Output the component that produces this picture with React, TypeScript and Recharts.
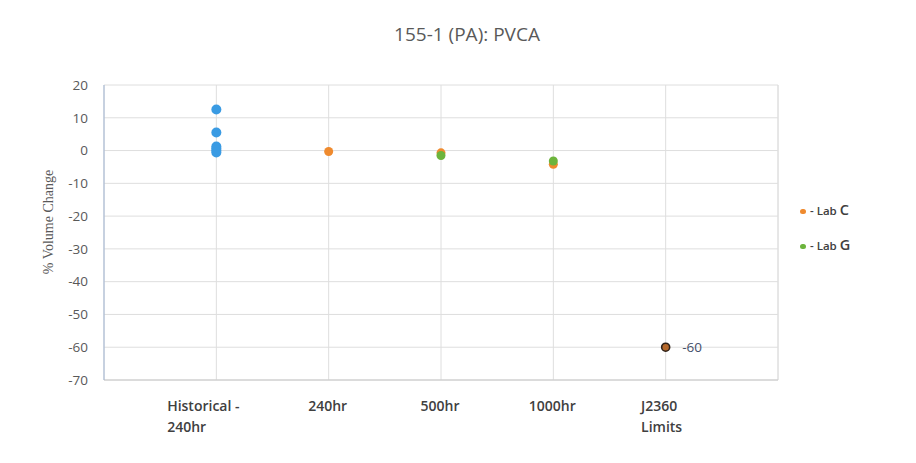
import React from 'react';
import {
  ScatterChart,
  Scatter,
  XAxis,
  YAxis,
  CartesianGrid,
  ReferenceLine,
  LabelList,
} from 'recharts';

const categories = ['Historical - 240hr', '240hr', '500hr', '1000hr', 'J2360 Limits'];
const categoryLines = [['Historical -', '240hr'], ['240hr'], ['500hr'], ['1000hr'], ['J2360', 'Limits']];
const yTicks = [20, 10, 0, -10, -20, -30, -40, -50, -60, -70];

const historicalValues = [12.5, 5.5, 1.2, 0.6, 0, -0.6];
const labCCats = [2, 3, 4];
const labCValues = [-0.3, -0.7, -4.2];
const labGCats = [3, 4];
const labGValues = [-1.5, -3.2];
const limitCats = [5];
const limitValues = [-60];

const historicalData = historicalValues.map((v) => ({ x: 1, y: v }));
const labCData = labCValues.map((v, i) => ({ x: labCCats[i], y: v }));
const labGData = labGValues.map((v, i) => ({ x: labGCats[i], y: v }));
const limitData = limitValues.map((v, i) => ({ x: limitCats[i], y: v, label: String(v) }));

const FONT = '"Open Sans", "Liberation Sans", sans-serif';

const XTick = (props: any) => {
  const { x, y, payload } = props;
  const idx = Math.round(payload.value) - 1;
  const lines = categoryLines[idx] || [];
  const longest = Math.max(...lines.map((l) => l.length));
  const w = longest * 8.2;
  return (
    <g>
      {lines.map((l, i) => (
        <text
          key={i}
          x={x - w / 2}
          y={y + 23 + i * 21}
          textAnchor="start"
          fontFamily={FONT}
          fontSize={14}
          fontWeight={600}
          fill="#404040"
        >
          {l}
        </text>
      ))}
    </g>
  );
};

const YLabel = () => (
  <text
    x={48}
    y={222}
    transform="rotate(-90, 48, 222)"
    textAnchor="middle"
    dominantBaseline="central"
    fontFamily='"Liberation Serif", serif'
    fontSize={14}
    fill="#595959"
  >
    % Volume Change
  </text>
);

const CircleShape = (r: number) => (p: any) => (
  <circle cx={p.cx} cy={p.cy} r={r} fill={p.fill} />
);

export default function App() {
  return (
    <div style={{ position: 'absolute', left: 0, top: 0, width: 916, height: 463, background: '#fff', fontFamily: FONT }}>
      <div
        style={{
          position: 'absolute',
          left: 0,
          width: 934,
          top: 21,
          textAlign: 'center',
          fontSize: 19,
          color: '#595959',
        }}
      >
        155-1 (PA): PVCA
      </div>
      <ScatterChart
        width={916}
        height={463}
        margin={{ top: 85, right: 138, bottom: 0, left: 0 }}
      >
        <CartesianGrid stroke="#dedede" />
        <XAxis
          type="number"
          dataKey="x"
          domain={[0, 6]}
          ticks={[1, 2, 3, 4, 5]}
          height={83}
          tick={<XTick />}
          tickLine={false}
          axisLine={{ stroke: '#c8c8c8' }}
          interval={0}
          allowDataOverflow
        />
        <YAxis
          type="number"
          dataKey="y"
          domain={[-70, 20]}
          ticks={yTicks}
          width={104}
          tickLine={false}
          tickSize={0}
          tickMargin={16}
          axisLine={{ stroke: '#9fb3d1' }}
          tick={{ fontFamily: FONT, fontSize: 13.5, fill: '#595959' }}
          label={<YLabel />}
        />
        <ReferenceLine x={6} stroke="#dedede" />
        <Scatter data={historicalData} fill="#3a9be3" isAnimationActive={false} shape={CircleShape(5)} />
        <Scatter data={labCData} fill="#ef8a2e" isAnimationActive={false} shape={CircleShape(4.5)} />
        <Scatter data={labGData} fill="#6cb43c" isAnimationActive={false} shape={CircleShape(4.5)} />
        <Scatter
          data={limitData}
          isAnimationActive={false}
          shape={(p: any) => (
            <circle cx={p.cx} cy={p.cy} r={4} fill="#b5682a" stroke="#2e2118" strokeWidth={1.6} />
          )}
        >
          <LabelList
            dataKey="label"
            position="right"
            offset={12}
            style={{ fontFamily: FONT, fontSize: 13.5, fill: '#44506a' }}
          />
        </Scatter>
      </ScatterChart>
      <div style={{ position: 'absolute', left: 800, top: 200, fontSize: 12, color: '#404040', lineHeight: '20px' }}>
        <span style={{ display: 'inline-block', width: 6, height: 5, borderRadius: 3, background: '#ef8a2e', marginRight: 4, verticalAlign: 'middle' }} />
        <span style={{ fontSize: 11.5, fontWeight: 600 }}>- Lab </span>
        <span style={{ fontSize: 14.5, fontWeight: 600 }}>C</span>
      </div>
      <div style={{ position: 'absolute', left: 800, top: 235, fontSize: 12, color: '#404040', lineHeight: '20px' }}>
        <span style={{ display: 'inline-block', width: 6, height: 5, borderRadius: 3, background: '#6cb43c', marginRight: 4, verticalAlign: 'middle' }} />
        <span style={{ fontSize: 11.5, fontWeight: 600 }}>- Lab </span>
        <span style={{ fontSize: 14.5, fontWeight: 600 }}>G</span>
      </div>
    </div>
  );
}
